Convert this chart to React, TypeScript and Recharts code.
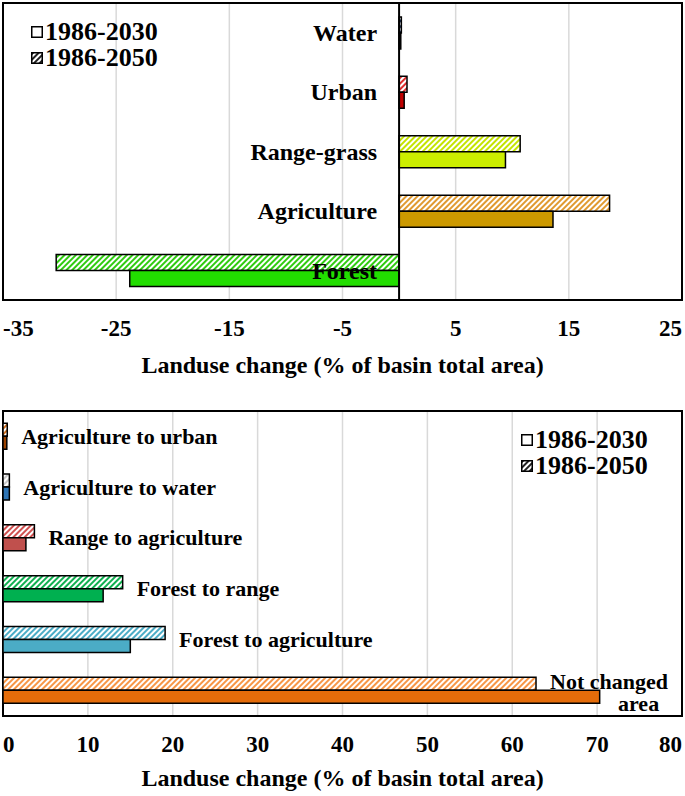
import {
  BarChart, Bar, XAxis, YAxis, CartesianGrid, Cell, LabelList,
  ReferenceLine, ReferenceArea, Legend,
} from 'recharts'

const FONT = '"Liberation Serif", "Times New Roman", serif'

// top panel: net change of each landuse class
const TOP_CATEGORIES = ['Water', 'Urban', 'Range-grass', 'Agriculture', 'Forest']
const TOP_2030 = [0.15, 0.45, 9.4, 13.6, -23.8]
const TOP_2050 = [0.2, 0.7, 10.7, 18.6, -30.3]
const TOP_TICKS = [-35, -25, -15, -5, 5, 15, 25]
const TOP_SOLID = ['#1f3864', '#c00000', '#ccee00', '#cc9900', '#22dd00']
const TOP_HATCH = ['#1f3864', '#e03030', '#c4e400', '#e09a30', '#30cc10']

// bottom panel: class transitions
const BOTTOM_CATEGORIES = [
  'Agriculture to urban', 'Agriculture to water', 'Range to agriculture',
  'Forest to range', 'Forest to agriculture', 'Not changed area',
]
const BOTTOM_LABELS = [
  ['Agriculture to urban'], ['Agriculture to water'], ['Range to agriculture'],
  ['Forest to range'], ['Forest to agriculture'], ['Not changed', 'area'],
]
const BOTTOM_2030 = [0.45, 0.75, 2.7, 11.8, 15.0, 70.3]
const BOTTOM_2050 = [0.5, 0.75, 3.7, 14.1, 19.1, 62.8]
const BOTTOM_TICKS = [0, 10, 20, 30, 40, 50, 60, 70, 80]
const BOTTOM_SOLID = ['#9c4300', '#2e75b6', '#c0504d', '#00b050', '#4bacc6', '#e46c0a']
const BOTTOM_HATCH = ['#d07020', '#c8c8c8', '#d05050', '#10b050', '#4bacc6', '#f79646']

const PERIODS = ['1986-2030', '1986-2050']
const AXIS_TITLE = 'Landuse change (% of basin total area)'

const topData = TOP_CATEGORIES.map((name, i) => ({ name, p2030: TOP_2030[i], p2050: TOP_2050[i] }))
const bottomData = BOTTOM_CATEGORIES.map((name, i) => ({ name, p2030: BOTTOM_2030[i], p2050: BOTTOM_2050[i] }))

function Hatch({ id, color }: { id: string; color: string }) {
  return (
    <pattern id={id} patternUnits="userSpaceOnUse" width={4} height={4} patternTransform="rotate(45)">
      <rect width={4} height={4} fill="#fff" />
      <line x1={2} y1={0} x2={2} y2={4} stroke={color} strokeWidth={2} />
    </pattern>
  )
}

function makeTick(ticks: number[]) {
  const first = ticks[0]
  const last = ticks[ticks.length - 1]
  return (props: any) => {
    const { x, y, payload } = props
    const anchor = payload.value === first ? 'start' : payload.value === last ? 'end' : 'middle'
    return (
      <text x={x} y={y + 28} textAnchor={anchor} dominantBaseline="central"
        fontFamily={FONT} fontWeight="bold" fontSize={23} fill="#000">
        {payload.value}
      </text>
    )
  }
}

function axisTitle(dy: number) {
  return (props: any) => {
    const vb = props.viewBox
    return (
      <text x={vb.x + vb.width / 2} y={vb.y + dy} textAnchor="middle" dominantBaseline="central"
        fontFamily={FONT} fontWeight="bold" fontSize={24} fill="#000">
        {AXIS_TITLE}
      </text>
    )
  }
}

function box(props: any) {
  const vb = props.viewBox ?? props
  const x1 = Math.min(vb.x, vb.x + vb.width)
  const x2 = Math.max(vb.x, vb.x + vb.width)
  const yb = Math.max(vb.y, vb.y + vb.height)
  return { x1, x2, yb }
}

// labels sit just left of the zero line, centred on the category band
function TopLabel(props: any) {
  const { x1, x2, yb } = box(props)
  const zero = TOP_2050[props.index] >= 0 ? x1 : x2
  return (
    <text x={zero - 22} y={yb} textAnchor="end" dominantBaseline="central"
      fontFamily={FONT} fontWeight="bold" fontSize={24} fill="#000">
      {TOP_CATEGORIES[props.index]}
    </text>
  )
}

function BottomLabel(props: any) {
  const { x2, yb } = box(props)
  const lines = BOTTOM_LABELS[props.index]
  if (lines.length > 1) {
    return (
      <text fontFamily={FONT} fontWeight="bold" fontSize={22} fill="#000" dominantBaseline="central">
        <tspan x={x2 + 14} y={yb - 9}>{lines[0]}</tspan>
        <tspan x={x2 + 82} y={yb + 13}>{lines[1]}</tspan>
      </text>
    )
  }
  return (
    <text x={x2 + 14} y={yb} dominantBaseline="central"
      fontFamily={FONT} fontWeight="bold" fontSize={22} fill="#000">
      {lines[0]}
    </text>
  )
}

function PeriodLegend() {
  return (
    <div style={{ fontFamily: FONT, fontWeight: 'bold', fontSize: 26, lineHeight: '26px', color: '#000' }}>
      {PERIODS.map((p, i) => (
        <div key={p} style={{ display: 'flex', alignItems: 'center', whiteSpace: 'nowrap' }}>
          <svg width={12} height={12} style={{ marginRight: 2 }}>
            <rect x={0.75} y={0.75} width={10.5} height={10.5}
              fill={i === 0 ? '#fff' : 'url(#legend-hatch)'} stroke="#000" strokeWidth={1.5} />
          </svg>
          <span>{p}</span>
        </div>
      ))}
    </div>
  )
}

export default function App() {
  return (
    <div style={{ position: 'absolute', left: 0, top: 0, width: 685, height: 796, background: '#fff' }}>
      <BarChart width={685} height={395} data={topData} layout="vertical"
        margin={{ top: 3, right: 3, bottom: 0, left: 3 }} barCategoryGap="23.5%" barGap={0}>
        <defs>
          {TOP_HATCH.map((c, i) => <Hatch key={i} id={`top-hatch-${i}`} color={c} />)}
          <Hatch id="legend-hatch" color="#222" />
        </defs>
        <CartesianGrid horizontal={false} stroke="#d9d9d9" strokeWidth={1.5} />
        <XAxis type="number" domain={[-35, 25]} ticks={TOP_TICKS} interval={0} height={95}
          axisLine={false} tickLine={false} tickSize={0} tickMargin={0}
          tick={makeTick(TOP_TICKS)} label={axisTitle(65)} />
        <YAxis type="category" dataKey="name" hide />
        <Bar dataKey="p2050" stroke="#000" strokeWidth={1.5} isAnimationActive={false}>
          {TOP_HATCH.map((_, i) => <Cell key={i} fill={`url(#top-hatch-${i})`} />)}
          <LabelList dataKey="name" content={TopLabel} />
        </Bar>
        <Bar dataKey="p2030" stroke="#000" strokeWidth={1.5} isAnimationActive={false}>
          {TOP_SOLID.map((c, i) => <Cell key={i} fill={c} />)}
        </Bar>
        <ReferenceLine x={0} stroke="#000" strokeWidth={2} />
        <ReferenceArea x1={-35} x2={25} fill="none" fillOpacity={0} stroke="#000" strokeWidth={2} />
        <Legend layout="vertical" align="center" verticalAlign="middle" content={PeriodLegend}
          wrapperStyle={{ position: 'absolute', top: 19, left: 31, width: 'auto', height: 'auto' }} />
      </BarChart>

      <BarChart width={685} height={401} data={bottomData} layout="vertical"
        margin={{ top: 16, right: 3, bottom: 0, left: 3 }} barCategoryGap="24%" barGap={0}>
        <defs>
          {BOTTOM_HATCH.map((c, i) => <Hatch key={i} id={`bottom-hatch-${i}`} color={c} />)}
        </defs>
        <CartesianGrid horizontal={false} stroke="#d9d9d9" strokeWidth={1.5} />
        <XAxis type="number" domain={[0, 80]} ticks={BOTTOM_TICKS} interval={0} height={80}
          axisLine={false} tickLine={false} tickSize={0} tickMargin={0}
          tick={makeTick(BOTTOM_TICKS)} label={axisTitle(62)} />
        <YAxis type="category" dataKey="name" hide />
        <Bar dataKey="p2050" stroke="#000" strokeWidth={1.5} isAnimationActive={false}>
          {BOTTOM_HATCH.map((_, i) => <Cell key={i} fill={`url(#bottom-hatch-${i})`} />)}
          <LabelList dataKey="name" content={BottomLabel} />
        </Bar>
        <Bar dataKey="p2030" stroke="#000" strokeWidth={1.5} isAnimationActive={false}>
          {BOTTOM_SOLID.map((c, i) => <Cell key={i} fill={c} />)}
        </Bar>
        <ReferenceArea x1={0} x2={80} fill="none" fillOpacity={0} stroke="#000" strokeWidth={2} />
        <Legend layout="vertical" align="center" verticalAlign="middle" content={PeriodLegend}
          wrapperStyle={{ position: 'absolute', top: 32, left: 521, width: 'auto', height: 'auto' }} />
      </BarChart>
    </div>
  )
}
